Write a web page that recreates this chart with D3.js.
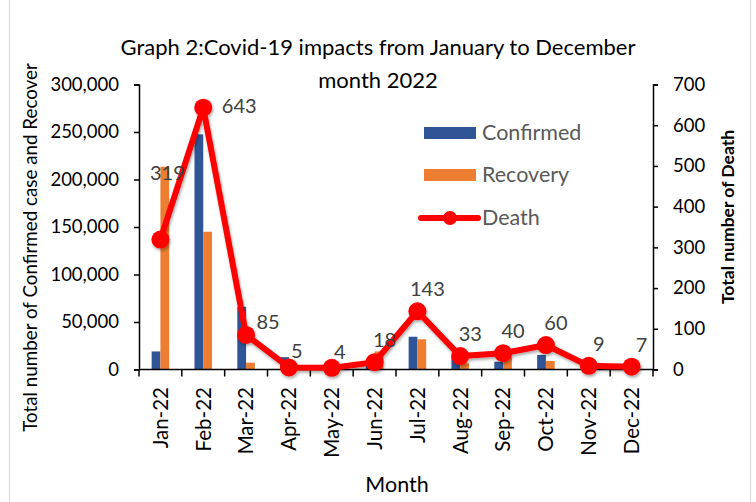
<!DOCTYPE html>
<html>
<head>
<meta charset="utf-8">
<script src="https://cdn.jsdelivr.net/npm/d3@7"></script>
<style>
  html, body { margin: 0; padding: 0; background: #fff; }
  svg { display: block; font-family: Lato, "Open Sans", sans-serif; }
</style>
</head>
<body>
<svg id="chart" width="756" height="502"></svg>
<script>
// ---- data ----
const months = ["Jan-22","Feb-22","Mar-22","Apr-22","May-22","Jun-22","Jul-22","Aug-22","Sep-22","Oct-22","Nov-22","Dec-22"];
const confirmed = [19000, 247500, 66000, 13000, 1500, 5000, 34500, 15000, 8200, 15300, 600, 400];
const recovery  = [213500, 145000, 7200, 2000, 1000, 19000, 31800, 6500, 13000, 9000, 300, 200];
const deaths    = [319, 643, 85, 5, 4, 18, 143, 33, 40, 60, 9, 7];
const leftTicks  = [0, 50000, 100000, 150000, 200000, 250000, 300000];
const rightTicks = [0, 100, 200, 300, 400, 500, 600, 700];
const titleLines = ["Graph 2:Covid-19 impacts from January to December", "month 2022"];
const seriesNames = ["Confirmed", "Recovery", "Death"];

// ---- presentation ----
const C_BLUE = "#2F5597", C_ORANGE = "#ED7D31", C_RED = "#FF0000";
const svg = d3.select("#chart");
const plot = {left: 139, right: 653, top: 84.5, bottom: 369.5};

const defs = svg.append("defs");
const f = defs.append("filter").attr("id","shadow").attr("x","-20%").attr("y","-20%").attr("width","140%").attr("height","140%");
f.append("feDropShadow").attr("dx",1).attr("dy",2).attr("stdDeviation",1.6).attr("flood-color","#000").attr("flood-opacity",0.35);

// outer border
svg.append("rect").attr("x",9.5).attr("y",-2).attr("width",741).attr("height",506)
  .attr("fill","none").attr("stroke","#d9d9d9").attr("stroke-width",1.2);

const x = d3.scaleBand().domain(months).range([plot.left, plot.right]).paddingInner(0).paddingOuter(0);
const y = d3.scaleLinear().domain([0, 300000]).range([plot.bottom, plot.top]);
const y2 = d3.scaleLinear().domain([0, 700]).range([plot.bottom, plot.top]);
const barW = x.bandwidth() * 0.205;
const cx = m => x(m) + x.bandwidth() / 2;

// title
svg.append("text").attr("x", 378).attr("y", 55).attr("text-anchor","middle")
  .attr("font-size", 22).attr("fill","#000")
  .selectAll("tspan").data(titleLines).join("tspan")
  .attr("x", 378).attr("dy", (d,i) => i === 0 ? 0 : 33).text(d => d);

// bars
svg.append("g").selectAll("rect.c").data(months).join("rect")
  .attr("x", (m) => cx(m) - barW).attr("width", barW)
  .attr("y", (m,i) => y(confirmed[i])).attr("height", (m,i) => y(0) - y(confirmed[i]))
  .attr("fill", C_BLUE);
svg.append("g").selectAll("rect.r").data(months).join("rect")
  .attr("x", (m) => cx(m)).attr("width", barW)
  .attr("y", (m,i) => y(recovery[i])).attr("height", (m,i) => y(0) - y(recovery[i]))
  .attr("fill", C_ORANGE);

// left axis
const gL = svg.append("g").attr("transform", `translate(${plot.left},0)`)
  .call(d3.axisLeft(y).tickValues(leftTicks).tickSize(5).tickPadding(15).tickFormat(d3.format(",")));
gL.selectAll("text").attr("font-size", 18.5).attr("fill","#000").attr("font-family","Lato, 'Open Sans', sans-serif");
gL.selectAll("line,path").attr("stroke","#000").attr("stroke-width",1.5);

// right axis
const gR = svg.append("g").attr("transform", `translate(${plot.right},0)`)
  .call(d3.axisRight(y2).tickValues(rightTicks).tickSize(5).tickPadding(15));
gR.selectAll("text").attr("font-size", 18.5).attr("fill","#000").attr("font-family","Lato, 'Open Sans', sans-serif");
gR.selectAll("line,path").attr("stroke","#000").attr("stroke-width",1.5);

// x axis (ticks at band boundaries)
const gX = svg.append("g");
gX.append("line").attr("x1", plot.left).attr("x2", plot.right).attr("y1", plot.bottom).attr("y2", plot.bottom)
  .attr("stroke","#000").attr("stroke-width",1.5);
const bounds = d3.range(months.length + 1).map(i => plot.left + i * x.step());
gX.selectAll("line.t").data(bounds).join("line")
  .attr("x1", d => d).attr("x2", d => d).attr("y1", plot.bottom).attr("y2", plot.bottom + 7)
  .attr("stroke","#000").attr("stroke-width",1.5);
gX.selectAll("text").data(months).join("text")
  .attr("transform", m => `translate(${cx(m)},387) rotate(-90)`)
  .attr("text-anchor","end").attr("dy","0.36em")
  .attr("font-size", 20.5).attr("fill","#000").text(m => m);

// axis titles
svg.append("text").attr("transform", "translate(30,247.5) rotate(-90)")
  .attr("text-anchor","middle").attr("dy","0.35em").attr("font-size", 18.8).attr("fill","#000")
  .text("Total number of Confirmed case and Recover");
svg.append("text").attr("transform", "translate(728,217) rotate(-90)")
  .attr("text-anchor","middle").attr("dy","0.35em").attr("font-size", 17.5).attr("font-weight","bold").attr("fill","#000")
  .text("Total number of Death");
svg.append("text").attr("x", 397).attr("y", 492).attr("text-anchor","middle")
  .attr("font-size", 21.5).attr("fill","#000").text("Month");

// death line
const line = d3.line().x((d,i) => cx(months[i])).y(d => y2(d));
const gD = svg.append("g").attr("filter","url(#shadow)");
gD.append("path").datum(deaths).attr("d", line).attr("fill","none")
  .attr("stroke", C_RED).attr("stroke-width", 6).attr("stroke-linejoin","round");
gD.selectAll("circle").data(deaths).join("circle")
  .attr("cx", (d,i) => cx(months[i])).attr("cy", d => y2(d)).attr("r", 9).attr("fill", C_RED);

// data labels (nudges relative to the point)
const nudge = i => i === 0 ? [7,-67] : i === 1 ? [36,-2] : i === 2 ? [22,-13] : i <= 4 ? [8,-16] : [10,-22];
svg.append("g").selectAll("text").data(deaths).join("text")
  .attr("x", (d,i) => cx(months[i]) + nudge(i)[0])
  .attr("y", (d,i) => y2(d) + nudge(i)[1])
  .attr("text-anchor","middle").attr("dy","0.35em")
  .attr("font-size", 20).attr("fill","#404040").text(d => d);

// legend
const lg = svg.append("g");
lg.append("rect").attr("x",424).attr("y",127).attr("width",52).attr("height",12).attr("fill",C_BLUE);
lg.append("rect").attr("x",424).attr("y",169).attr("width",52).attr("height",12).attr("fill",C_ORANGE);
lg.append("line").attr("x1",421).attr("x2",478).attr("y1",218).attr("y2",218).attr("stroke",C_RED).attr("stroke-width",6).attr("stroke-linecap","round");
lg.append("circle").attr("cx",450).attr("cy",218).attr("r",7).attr("fill",C_RED);
lg.selectAll("text").data(seriesNames).join("text")
  .attr("x", 482).attr("y", (d,i) => [140, 182, 225][i])
  .attr("font-size", 21.5).attr("fill","#595959").text(d => d);
</script>
</body>
</html>
